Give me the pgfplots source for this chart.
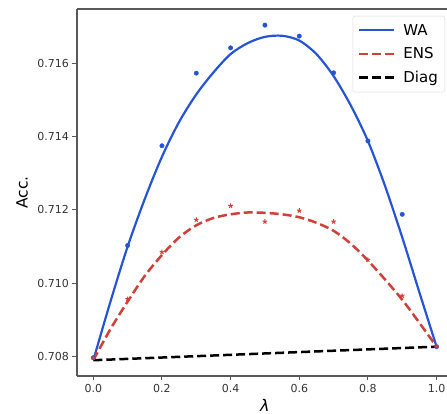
\documentclass[border=0pt]{standalone}
\usepackage{fontspec}
\setmainfont{DejaVu Sans}
\usepackage{pgfplots}
\pgfplotsset{compat=1.18}
\definecolor{wablue}{RGB}{38,84,214}
\definecolor{ensred}{RGB}{208,64,56}

\begin{document}
\begin{tikzpicture}
\begin{axis}[
  scale only axis, width=370pt, height=367pt,
  xmin=-0.0475, xmax=1.0304, ymin=0.70747, ymax=0.71748,
  axis x line*=box, axis y line*=left,
  xtick pos=left, ytick pos=left,
  axis line style={black!65, line width=1.2pt},
  tick style={black!65, line width=1pt},
  major tick length=4.5pt, tick align=outside,
  xtick={0,0.2,0.4,0.6,0.8,1},
  ytick={0.708,0.710,0.712,0.714,0.716},
  scaled y ticks=false,
  xticklabel style={/pgf/number format/.cd, fixed, fixed zerofill, precision=1},
  yticklabel style={/pgf/number format/.cd, fixed, fixed zerofill, precision=3},
  /pgf/number format/assume math mode=true,
  ticklabel style={font=\fontsize{11}{13}\selectfont, text=black!80},
  ylabel={Acc.},
  ylabel style={at={(axis description cs:-0.1486,0.5)}, anchor=center,
                font=\fontsize{15.5}{18}\selectfont},
  xlabel={\textit{λ}},
  xlabel style={at={(axis description cs:0.508,-0.079)}, anchor=center,
                font=\fontsize{16}{18}\selectfont},
  legend cell align=left,
  legend image code/.code={\draw[#1] (0pt,0pt) -- (35pt,0pt); \path (41pt,0pt);},
  legend style={at={(axis description cs:0.9946,0.981)}, anchor=north east,
                font=\fontsize{15}{18}\selectfont, draw=black!15,
                rounded corners=2pt, row sep=7pt, inner xsep=5pt, inner ysep=6pt},
]
% fitted curves
\addplot[wablue, line width=2.2pt, smooth] table {
x y
0.00 0.70790
0.05 0.70950
0.10 0.71100
0.15 0.71230
0.20 0.71345
0.25 0.71440
0.30 0.71515
0.35 0.71575
0.40 0.71625
0.45 0.71655
0.50 0.71672
0.55 0.71675
0.60 0.71662
0.65 0.71625
0.70 0.71565
0.75 0.71485
0.80 0.71388
0.85 0.71265
0.90 0.71125
0.95 0.70975
1.00 0.70827
};
\addlegendentry{WA}
\addplot[ensred, line width=2.5pt, smooth, dash pattern=on 9pt off 4pt] table {
x y
0.00 0.70790
0.05 0.70875
0.10 0.70950
0.15 0.71020
0.20 0.71077
0.25 0.71125
0.30 0.71158
0.35 0.71178
0.40 0.71188
0.45 0.71193
0.50 0.71192
0.55 0.71188
0.60 0.71180
0.65 0.71165
0.70 0.71143
0.75 0.71108
0.80 0.71062
0.85 0.71010
0.90 0.70955
0.95 0.70892
1.00 0.70827
};
\addlegendentry{ENS}
\addplot[black, line width=2.5pt, dash pattern=on 9pt off 4pt] table {
x y
0.0 0.70790
1.0 0.70827
};
\addlegendentry{Diag}
% measured points
\addplot[only marks, mark=*, mark size=2.2pt, wablue, forget plot] table {
x y
0.0 0.70797
0.1 0.71103
0.2 0.71375
0.3 0.71573
0.4 0.71642
0.5 0.71704
0.6 0.71674
0.7 0.71574
0.8 0.71388
0.9 0.71188
1.0 0.70827
};
\addplot[only marks, mark=star, mark size=2.4pt, ensred, line width=1pt, forget plot] table {
x y
0.0 0.70797
0.1 0.70957
0.2 0.71085
0.3 0.71173
0.4 0.71211
0.5 0.71168
0.6 0.71198
0.7 0.71168
0.8 0.71064
0.9 0.70966
1.0 0.70827
};
\end{axis}
\pgfresetboundingbox
\path ([shift={(-77pt,-38pt)}]current axis.south west) rectangle ([shift={(0pt,9pt)}]current axis.north east);
\end{tikzpicture}
\end{document}
